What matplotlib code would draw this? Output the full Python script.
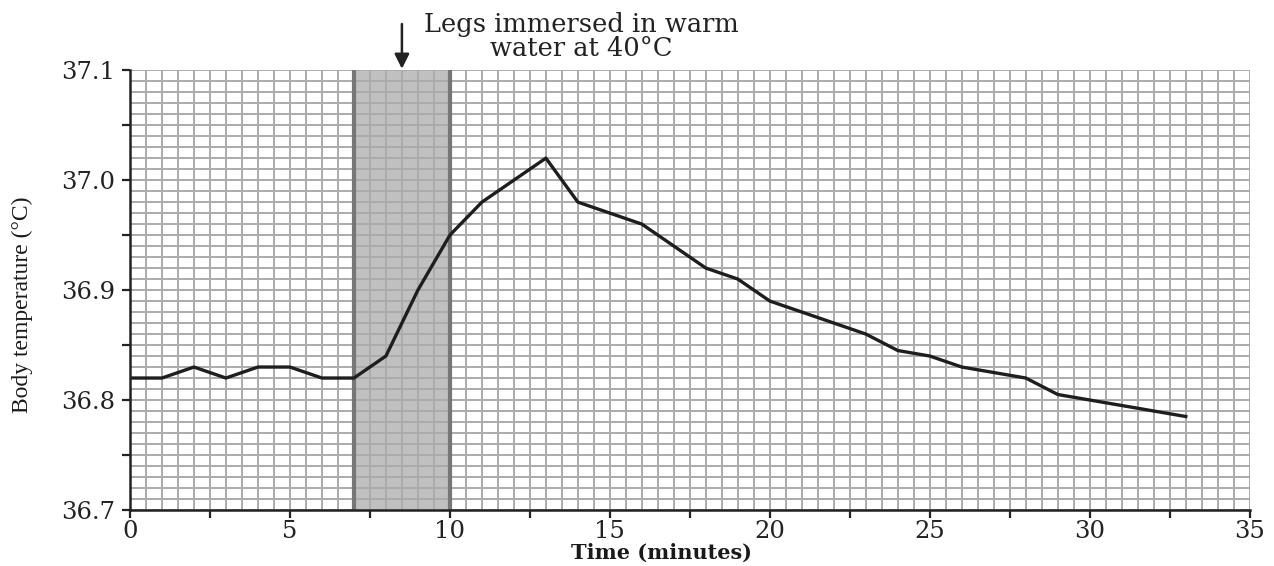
import numpy as np
import matplotlib.pyplot as plt
from matplotlib.ticker import MultipleLocator

plt.rcParams['font.family'] = ['DejaVu Serif', 'Liberation Serif']

# data
time_min = [0, 1, 2, 3, 4, 5, 6, 7, 8, 9, 10, 11, 12, 13, 14, 15, 16,
            17, 18, 19, 20, 21, 22, 23, 24, 25, 26, 27, 28, 29, 30, 31, 32, 33]
body_temp = [36.82, 36.82, 36.83, 36.82, 36.83, 36.83, 36.82, 36.82, 36.84,
             36.90, 36.95, 36.98, 37.00, 37.02, 36.98, 36.97, 36.96, 36.94,
             36.92, 36.91, 36.89, 36.88, 36.87, 36.86, 36.845, 36.84, 36.83,
             36.825, 36.82, 36.805, 36.80, 36.795, 36.79, 36.785]
immersion = (7, 10)
arrow_at = 8.5
note = 'Legs immersed in warm\nwater at 40°C'

fig = plt.figure(figsize=(12.74, 5.66), dpi=100)
ax = fig.add_axes([0.102, 0.099, 0.879, 0.777])

ax.set_xlim(0, 35)
ax.set_ylim(36.7, 37.1)

# shaded immersion period (under the grid paper lines)
ax.axvspan(immersion[0], immersion[1], color='#c0c0c0', lw=0, zorder=0.5)

# graph paper grid
grid_col = '#ababab'
ax.vlines(np.arange(0, 35.01, 0.5), 36.7, 37.1, color=grid_col, lw=1.4, zorder=1)
ax.hlines(np.arange(36.7, 37.1001, 0.01), 0, 35, color=grid_col, lw=1.4, zorder=1)

for xv in immersion:
    ax.axvline(xv, color='#767676', lw=3, zorder=3)

ax.plot(time_min, body_temp, color='#1e1e1e', lw=2.4, zorder=4)

ax.spines['top'].set_visible(False)
ax.spines['right'].set_visible(False)
for s in ('left', 'bottom'):
    ax.spines[s].set_color('#222222')
    ax.spines[s].set_linewidth(1.8)
    ax.spines[s].set_zorder(5)

ax.xaxis.set_major_locator(MultipleLocator(5))
ax.xaxis.set_minor_locator(MultipleLocator(2.5))
ax.yaxis.set_major_locator(MultipleLocator(0.1))
ax.yaxis.set_minor_locator(MultipleLocator(0.05))
ax.set_yticklabels([f'{v:.1f}' for v in ax.get_yticks()])
ax.tick_params(which='both', direction='out', length=6, width=1.6, color='#222222',
               labelsize=17.5, labelcolor='#222222')
ax.tick_params(axis='x', pad=1)
ax.tick_params(axis='y', pad=5)

ax.set_xlabel('Time (minutes)', fontsize=15, fontweight='bold', labelpad=0, x=0.475,
              color='#1a1a1a')
ax.set_ylabel('Body temperature (°C)', family='Liberation Serif', fontsize=17,
              color='#1a1a1a')
ax.yaxis.set_label_coords(-0.087, 0.466)

ax.annotate('', xy=(arrow_at, 37.1), xytext=(arrow_at, 37.142),
            arrowprops=dict(arrowstyle='-|>', color='#222222', lw=1.8,
                            mutation_scale=22, shrinkA=0, shrinkB=1),
            annotation_clip=False)
ax.text(14.1, 37.131, note, fontsize=18.5, ha='center', va='center',
        linespacing=0.95, color='#222222')

fig.savefig('out.png', dpi=100)
